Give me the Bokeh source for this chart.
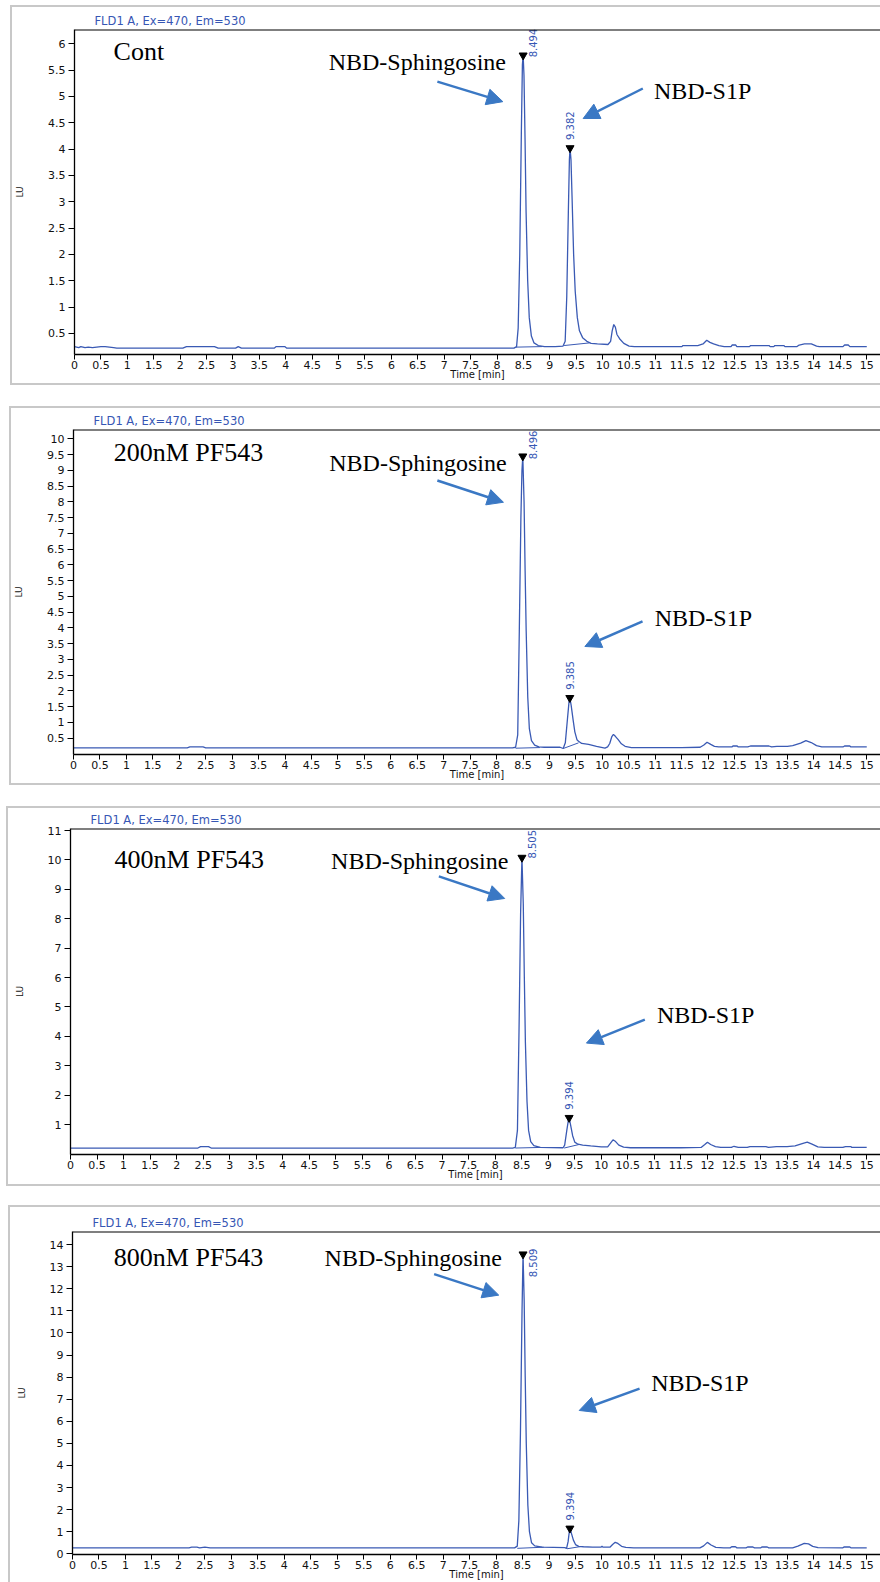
import numpy as np
from bokeh.plotting import figure
from bokeh.layouts import column
from bokeh.models import FixedTicker, Span, Arrow, NormalHead, Range1d
from bokeh.core.properties import value
from bokeh.embed import file_html
from bokeh.resources import INLINE

# ---------------- data ----------------
header_text = "FLD1 A, Ex=470, Em=530"
x_tick_labels = ["0", "0.5", "1", "1.5", "2", "2.5", "3", "3.5", "4", "4.5", "5", "5.5", "6", "6.5",
                 "7", "7.5", "8", "8.5", "9", "9.5", "10", "10.5", "11", "11.5", "12", "12.5", "13",
                 "13.5", "14", "14.5", "15"]
cont_y_labels = ["0.5", "1", "1.5", "2", "2.5", "3", "3.5", "4", "4.5", "5", "5.5", "6"]
pf200_y_labels = ["0.5", "1", "1.5", "2", "2.5", "3", "3.5", "4", "4.5", "5", "5.5", "6", "6.5",
                  "7", "7.5", "8", "8.5", "9", "9.5", "10"]
pf400_y_labels = ["1", "2", "3", "4", "5", "6", "7", "8", "9", "10", "11"]
pf800_y_labels = ["0", "1", "2", "3", "4", "5", "6", "7", "8", "9", "10", "11", "12", "13", "14"]

conditions = ["Cont", "200nM PF543", "400nM PF543", "800nM PF543"]
sph_name = "NBD-Sphingosine"
s1p_name = "NBD-S1P"

# chromatogram traces: (time [min], LU)
cont_trace = [(0.00, 0.25), (0.08, 0.23), (0.12, 0.25), (0.20, 0.23), (0.26, 0.24), (0.34, 0.23),
              (0.42, 0.24), (0.50, 0.25), (0.58, 0.25), (0.66, 0.24), (0.74, 0.23), (0.80, 0.22),
              (2.05, 0.22), (2.12, 0.25), (2.65, 0.25), (2.72, 0.22), (3.05, 0.22), (3.10, 0.25),
              (3.16, 0.22), (3.78, 0.22), (3.82, 0.25), (3.98, 0.25), (4.02, 0.22), (6.00, 0.22),
              (8.32, 0.22), (8.37, 0.25), (8.40, 0.60), (8.43, 2.00), (8.46, 4.30), (8.48, 5.60),
              (8.494, 5.78), (8.51, 5.40), (8.53, 4.20), (8.55, 2.80), (8.58, 1.50), (8.61, 0.80),
              (8.65, 0.45), (8.70, 0.32), (8.78, 0.27), (8.90, 0.25), (9.10, 0.25), (9.25, 0.26),
              (9.29, 0.35), (9.32, 1.20), (9.35, 2.80), (9.37, 3.80), (9.382, 4.02), (9.40, 3.80),
              (9.42, 3.10), (9.45, 2.00), (9.48, 1.30), (9.52, 0.80), (9.56, 0.55), (9.62, 0.42),
              (9.70, 0.35), (9.78, 0.31), (9.90, 0.30), (10.10, 0.29), (10.15, 0.35), (10.18, 0.55),
              (10.21, 0.67), (10.24, 0.62), (10.27, 0.48), (10.32, 0.40), (10.40, 0.31), (10.50, 0.26),
              (10.60, 0.25), (11.50, 0.25), (11.52, 0.27), (11.80, 0.27), (11.90, 0.30), (11.97, 0.37),
              (12.03, 0.33), (12.10, 0.30), (12.20, 0.27), (12.30, 0.25), (12.43, 0.25), (12.45, 0.28),
              (12.52, 0.28), (12.54, 0.25), (12.78, 0.25), (12.80, 0.27), (13.15, 0.27), (13.17, 0.25),
              (13.24, 0.25), (13.26, 0.27), (13.43, 0.27), (13.45, 0.25), (13.68, 0.25), (13.72, 0.28),
              (13.82, 0.30), (13.95, 0.30), (14.05, 0.26), (14.10, 0.25), (14.55, 0.25), (14.58, 0.28),
              (14.65, 0.28), (14.68, 0.25), (15.00, 0.25)]

pf200_trace = [(0.00, 0.19), (1.00, 0.19), (2.15, 0.19), (2.20, 0.22), (2.45, 0.22), (2.50, 0.19),
               (6.00, 0.19), (8.30, 0.19), (8.36, 0.21), (8.40, 0.60), (8.43, 3.90), (8.46, 7.50),
               (8.48, 9.00), (8.496, 9.45), (8.52, 8.00), (8.54, 5.80), (8.56, 3.90), (8.59, 1.80),
               (8.62, 0.80), (8.66, 0.42), (8.72, 0.28), (8.80, 0.22), (8.90, 0.21), (9.20, 0.21),
               (9.26, 0.17), (9.30, 0.35), (9.34, 1.10), (9.37, 1.65), (9.385, 1.78), (9.41, 1.55),
               (9.45, 1.05), (9.48, 0.70), (9.52, 0.45), (9.55, 0.40), (9.61, 0.33), (9.74, 0.30),
               (9.89, 0.24), (10.05, 0.18), (10.10, 0.22), (10.14, 0.33), (10.18, 0.55), (10.21, 0.62),
               (10.25, 0.55), (10.30, 0.45), (10.36, 0.32), (10.43, 0.24), (10.55, 0.20), (11.50, 0.20),
               (11.85, 0.21), (11.92, 0.28), (11.98, 0.37), (12.05, 0.30), (12.12, 0.24), (12.20, 0.22),
               (12.45, 0.22), (12.47, 0.25), (12.55, 0.25), (12.57, 0.22), (12.75, 0.22), (12.80, 0.25),
               (13.15, 0.25), (13.20, 0.22), (13.30, 0.24), (13.50, 0.24), (13.60, 0.26), (13.75, 0.34),
               (13.85, 0.42), (13.95, 0.36), (14.05, 0.26), (14.15, 0.22), (14.55, 0.22), (14.58, 0.25),
               (14.68, 0.25), (14.70, 0.22), (15.00, 0.22)]

pf400_trace = [(0.00, 0.20), (1.00, 0.20), (2.40, 0.20), (2.45, 0.25), (2.60, 0.25), (2.65, 0.20),
               (6.00, 0.20), (8.33, 0.20), (8.38, 0.22), (8.42, 0.80), (8.45, 4.20), (8.48, 8.20),
               (8.505, 10.08), (8.53, 8.50), (8.55, 6.00), (8.57, 3.80), (8.60, 1.80), (8.63, 0.80),
               (8.67, 0.42), (8.73, 0.28), (8.85, 0.22), (9.28, 0.21), (9.31, 0.30), (9.35, 0.80),
               (9.38, 1.15), (9.394, 1.23), (9.42, 1.00), (9.46, 0.62), (9.50, 0.40), (9.56, 0.33),
               (9.65, 0.30), (9.80, 0.27), (10.00, 0.24), (10.12, 0.24), (10.17, 0.36), (10.22, 0.48),
               (10.27, 0.42), (10.33, 0.30), (10.42, 0.23), (10.55, 0.21), (11.50, 0.21), (11.88, 0.22),
               (11.95, 0.32), (12.00, 0.40), (12.06, 0.32), (12.15, 0.25), (12.25, 0.22), (12.45, 0.22),
               (12.50, 0.26), (12.58, 0.22), (12.75, 0.22), (12.80, 0.25), (13.10, 0.25), (13.15, 0.22),
               (13.30, 0.25), (13.50, 0.25), (13.65, 0.27), (13.80, 0.36), (13.88, 0.40), (13.97, 0.33),
               (14.08, 0.24), (14.20, 0.22), (14.55, 0.22), (14.60, 0.25), (14.70, 0.25), (14.72, 0.22),
               (15.00, 0.22)]

pf800_trace = [(0.00, 0.27), (1.00, 0.27), (2.20, 0.27), (2.25, 0.30), (2.35, 0.30), (2.40, 0.27),
               (2.50, 0.30), (2.60, 0.27), (6.00, 0.27), (8.35, 0.27), (8.40, 0.35), (8.43, 1.50),
               (8.46, 5.50), (8.49, 11.00), (8.509, 13.56), (8.53, 11.50), (8.55, 8.00), (8.57, 5.00),
               (8.60, 2.20), (8.63, 1.00), (8.67, 0.50), (8.73, 0.36), (8.87, 0.30), (9.30, 0.28),
               (9.33, 0.24), (9.36, 0.55), (9.38, 0.95), (9.394, 1.15), (9.42, 0.95), (9.46, 0.62),
               (9.50, 0.42), (9.56, 0.34), (9.65, 0.32), (9.82, 0.30), (9.98, 0.30), (10.00, 0.34),
               (10.02, 0.30), (10.15, 0.30), (10.20, 0.42), (10.25, 0.52), (10.30, 0.47), (10.37, 0.34),
               (10.45, 0.29), (10.60, 0.27), (11.85, 0.27), (11.92, 0.36), (11.99, 0.52), (12.06, 0.40),
               (12.15, 0.29), (12.30, 0.27), (12.42, 0.27), (12.45, 0.32), (12.52, 0.32), (12.55, 0.27),
               (12.72, 0.27), (12.75, 0.31), (12.85, 0.31), (12.88, 0.27), (13.00, 0.27), (13.02, 0.31),
               (13.12, 0.31), (13.15, 0.27), (13.60, 0.27), (13.70, 0.35), (13.82, 0.47), (13.90, 0.45),
               (13.98, 0.34), (14.08, 0.28), (14.55, 0.27), (14.57, 0.31), (14.68, 0.31), (14.70, 0.27),
               (15.00, 0.27)]

# integration baselines (t0, lu0, t1, lu1)
cont_bl = [(8.36, 0.24, 8.85, 0.25), (9.27, 0.27, 9.75, 0.32)]
pf200_bl = [(8.36, 0.18, 8.82, 0.20), (9.26, 0.17, 9.55, 0.35)]
pf400_bl = [(8.38, 0.20, 8.85, 0.22), (9.30, 0.20, 9.58, 0.32)]
pf800_bl = [(8.40, 0.25, 8.90, 0.30), (9.34, 0.23, 9.60, 0.33)]

# peak apexes: retention time, LU, label
cont_peaks = [(8.494, 5.78, "8.494"), (9.382, 4.02, "9.382")]
pf200_peaks = [(8.496, 9.45, "8.496"), (9.385, 1.78, "9.385")]
pf400_peaks = [(8.505, 10.08, "8.505"), (9.394, 1.23, "9.394")]
pf800_peaks = [(8.509, 13.56, "8.509"), (9.394, 1.15, "9.394")]

# annotation anchors in data units (time, LU)
cont_cond_pos = (0.74, 5.85)
pf200_cond_pos = (0.76, 9.57)
pf400_cond_pos = (0.83, 10.01)
pf800_cond_pos = (0.78, 13.42)

cont_sph_pos = (8.17, 5.65)
pf200_sph_pos = (8.19, 9.25)
pf400_sph_pos = (8.25, 9.98)
pf800_sph_pos = (8.11, 13.40)

cont_s1p_pos = (10.97, 5.11)
pf200_s1p_pos = (10.99, 4.31)
pf400_s1p_pos = (11.05, 4.71)
pf800_s1p_pos = (10.93, 7.72)

cont_sph_arrow = (6.87, 5.28, 8.11, 4.90)
pf200_sph_arrow = (6.88, 8.68, 8.13, 7.99)
pf400_sph_arrow = (6.94, 9.44, 8.18, 8.69)
pf800_sph_arrow = (6.83, 12.66, 8.05, 11.71)

cont_s1p_arrow = (10.76, 5.15, 9.63, 4.58)
pf200_s1p_arrow = (10.76, 4.21, 9.67, 3.41)
pf400_s1p_arrow = (10.82, 4.57, 9.72, 3.77)
pf800_s1p_arrow = (10.71, 7.48, 9.57, 6.49)

# axis ranges
x_end = 15.26
cont_yr = (0.10, 6.27)
pf200_yr = (-0.02, 10.30)
pf400_yr = (-0.02, 11.07)
pf800_yr = (-0.03, 14.59)

# ---------------- styling ----------------
TRACE = "#3a5ab4"
LABEL_BLUE = "#3656b4"
ARROW = "#3a78c4"
BOX = "#c8c8c8"
SANS = "DejaVu Sans"
SERIF = "Liberation Serif"


def panel(trace, bl, peaks, yr, y_labels, cond, cond_pos, sph_pos, s1p_pos, sph_arrow, s1p_arrow,
          width, height, mbt, mbb, margin, sph_dy):
    p = figure(width=width, height=height, x_range=Range1d(0, x_end), y_range=Range1d(*yr),
               output_backend="svg", toolbar_location=None,
               min_border_left=61, min_border_right=0, min_border_top=mbt, min_border_bottom=mbb,
               margin=margin, styles={"outline": "2px solid " + BOX})
    p.outline_line_color = None
    p.grid.visible = False
    p.background_fill_color = "white"
    p.border_fill_color = "white"

    p.title.text = header_text
    p.title.align = "left"
    p.title.offset = 20
    p.title.standoff = 4
    p.title.text_font = SANS
    p.title.text_font_size = "11.5px"
    p.title.text_font_style = "normal"
    p.title.text_color = LABEL_BLUE

    xt = [float(s) for s in x_tick_labels]
    p.xaxis.ticker = FixedTicker(ticks=xt)
    p.xaxis.major_label_overrides = {v: s for v, s in zip(xt, x_tick_labels)}
    yt = [float(s) for s in y_labels]
    p.yaxis.ticker = FixedTicker(ticks=yt)
    p.yaxis.major_label_overrides = {v: s for v, s in zip(yt, y_labels)}

    for ax in (p.xaxis, p.yaxis):
        ax.axis_line_color = "black"
        ax.axis_line_width = 1.3
        ax.major_tick_line_color = "black"
        ax.major_tick_in = 0
        ax.minor_tick_line_color = None
        ax.major_label_text_font = SANS
        ax.major_label_text_font_size = "11px"
        ax.major_label_text_color = "#111111"
        ax.axis_label_text_font = SANS
        ax.axis_label_text_font_style = "normal"
        ax.axis_label_text_color = "#111111"
    p.xaxis.major_tick_out = 5
    p.xaxis.major_label_standoff = 1
    p.xaxis.axis_label = "Time [min]"
    p.xaxis.axis_label_text_font_size = "10px"
    p.xaxis.axis_label_standoff = -3
    p.yaxis.major_tick_out = 6
    p.yaxis.major_label_standoff = 3
    p.yaxis.axis_label = "LU"
    p.yaxis.axis_label_text_font_size = "9px"
    p.yaxis.axis_label_standoff = 20

    p.add_layout(Span(location=yr[1], dimension="width", line_color="black", line_width=2))

    t = [a for a, b in trace]
    v = [b for a, b in trace]
    p.line(t, v, line_color=TRACE, line_width=1.3)
    p.segment(x0=[s[0] for s in bl], y0=[s[1] for s in bl], x1=[s[2] for s in bl],
              y1=[s[3] for s in bl], line_color=TRACE, line_width=1)

    rt = [a for a, b, c in peaks]
    ap = [b for a, b, c in peaks]
    lab = [c for a, b, c in peaks]
    p.scatter(rt, ap, marker="inverted_triangle", size=8, color="black")
    # Sphingosine RT label beside the peak, S1P label above it
    p.text([rt[0]], [ap[0]], text=[lab[0]], angle=np.pi / 2, text_align="left",
           text_baseline="middle", x_offset=10, y_offset=sph_dy, text_font=value(SANS),
           text_font_size="10px", text_color=LABEL_BLUE)
    p.text([rt[1]], [ap[1]], text=[lab[1]], angle=np.pi / 2, text_align="left",
           text_baseline="middle", x_offset=0, y_offset=-8, text_font=value(SANS),
           text_font_size="10px", text_color=LABEL_BLUE)

    p.text([cond_pos[0]], [cond_pos[1]], text=[cond], text_align="left", text_baseline="middle",
           text_font=value(SERIF), text_font_size="26px", text_color="black")
    p.text([sph_pos[0]], [sph_pos[1]], text=[sph_name], text_align="right", text_baseline="middle",
           text_font=value(SERIF), text_font_size="24px", text_color="black")
    p.text([s1p_pos[0]], [s1p_pos[1]], text=[s1p_name], text_align="left", text_baseline="middle",
           text_font=value(SERIF), text_font_size="24px", text_color="black")

    for a in (sph_arrow, s1p_arrow):
        p.add_layout(Arrow(end=NormalHead(size=16, fill_color=ARROW, line_color=ARROW),
                           x_start=a[0], y_start=a[1], x_end=a[2], y_end=a[3],
                           line_color=ARROW, line_width=2.5))
    return p


p1 = panel(cont_trace, cont_bl, cont_peaks, cont_yr, cont_y_labels, conditions[0], cont_cond_pos,
           cont_sph_pos, cont_s1p_pos, cont_sph_arrow, cont_s1p_arrow,
           width=868, height=376, mbt=22, mbb=29, margin=(7, 0, 0, 12), sph_dy=2)
p2 = panel(pf200_trace, pf200_bl, pf200_peaks, pf200_yr, pf200_y_labels, conditions[1], pf200_cond_pos,
           pf200_sph_pos, pf200_s1p_pos, pf200_sph_arrow, pf200_s1p_arrow,
           width=869, height=375, mbt=21, mbb=29, margin=(25, 0, 0, 11), sph_dy=3)
p3 = panel(pf400_trace, pf400_bl, pf400_peaks, pf400_yr, pf400_y_labels, conditions[2], pf400_cond_pos,
           pf400_sph_pos, pf400_s1p_pos, pf400_sph_arrow, pf400_s1p_arrow,
           width=872, height=376, mbt=20, mbb=30, margin=(25, 0, 0, 8), sph_dy=1)
p4 = panel(pf800_trace, pf800_bl, pf800_peaks, pf800_yr, pf800_y_labels, conditions[3], pf800_cond_pos,
           pf800_sph_pos, pf800_s1p_pos, pf800_sph_arrow, pf800_s1p_arrow,
           width=870, height=375, mbt=24, mbb=28, margin=(23, 0, 0, 10), sph_dy=23)

layout = column(p1, p2, p3, p4, spacing=0)
open("out.html", "w").write(file_html(layout, INLINE))
